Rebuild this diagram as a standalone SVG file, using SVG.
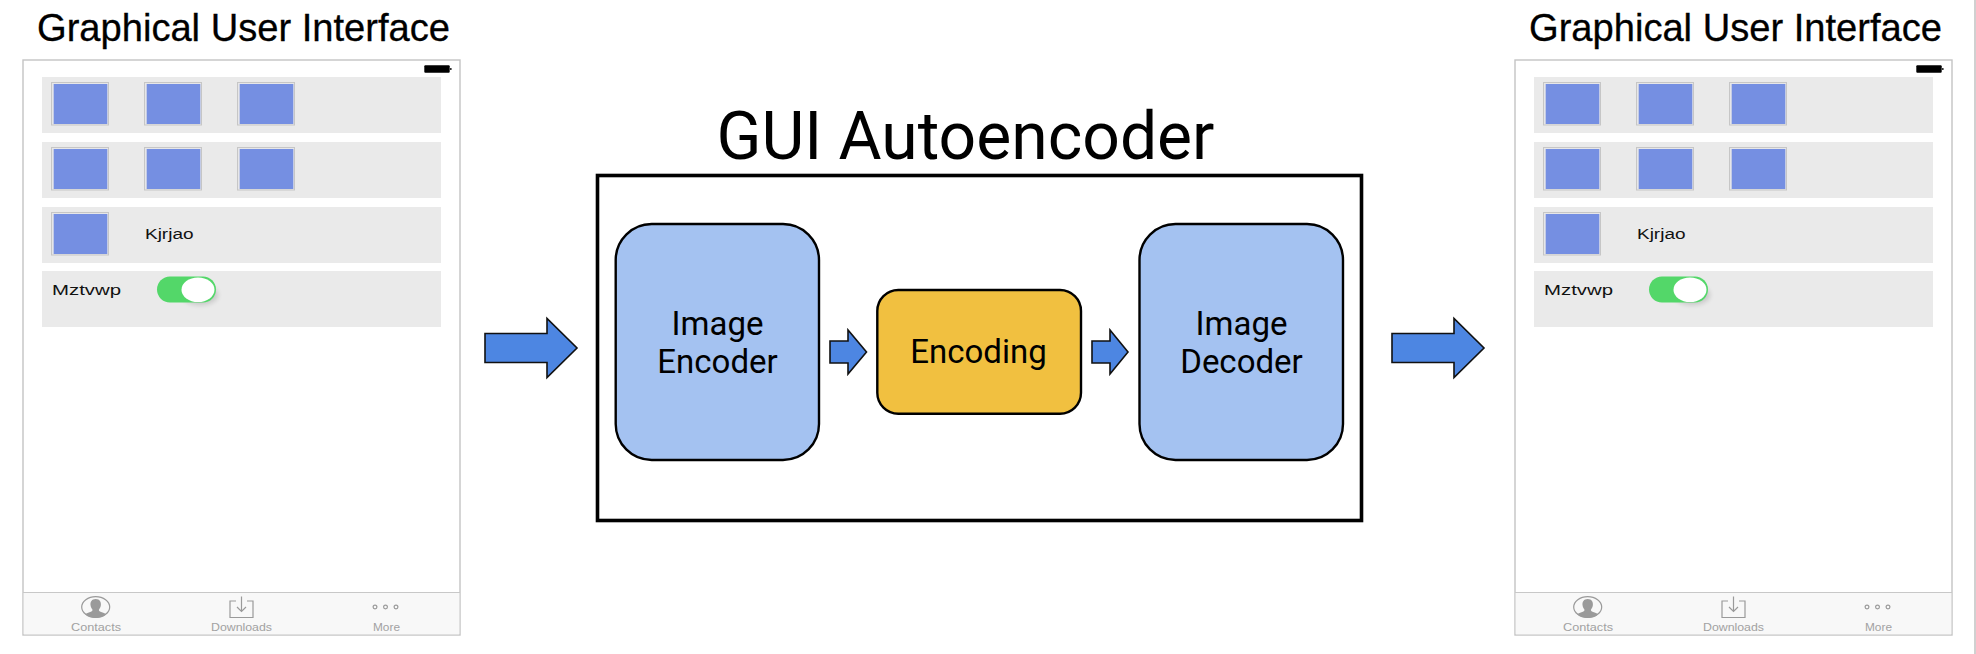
<svg xmlns="http://www.w3.org/2000/svg" xmlns:xlink="http://www.w3.org/1999/xlink" width="1976" height="654" viewBox="0 0 1976 654">
<style>
.h{font-family:"Liberation Sans",Arial,sans-serif;font-size:38.500px;fill:#000;stroke:#000;stroke-width:.3}
.t{font-family:"Liberation Sans",Arial,sans-serif;font-size:15.500px;fill:#111}
.tab{font-family:"Liberation Sans",Arial,sans-serif;font-size:11px;fill:#a2a2a2}
.m{font-family:Roboto,"Liberation Sans",sans-serif;fill:#000;text-anchor:middle}
.l{font-size:33px}
.box{stroke:#000;stroke-width:2.400}
.blue{fill:#a4c2f1}
.arrow{fill:#4d86e2;stroke:#111;stroke-width:1.600;stroke-linejoin:miter}
.sqo{fill:#e6e6e8;stroke:#c6c6c6;stroke-width:1}
.sqi{fill:#758fe2}
.row{fill:#eaeaea}
.ic{fill:none;stroke:#9a9a9a;stroke-width:1.200}
</style>
<defs>
<filter id="sh" x="-30%" y="-30%" width="170%" height="180%"><feGaussianBlur stdDeviation="2.500"/></filter>
<g id="sq"><rect class="sqo" x="0.500" y="0.500" width="57" height="42.500"/><rect class="sqi" x="2.700" y="2" width="53.600" height="40"/></g>
<g id="phone-ui">
<rect x="23" y="60" width="437" height="575" fill="#fff" stroke="#c4c4c4" stroke-width="1.400"/>
<rect x="23.700" y="592" width="435.600" height="42.300" fill="#f8f8f8"/>
<line x1="23" y1="592.500" x2="460" y2="592.500" stroke="#c8c8c8" stroke-width="1.200"/>
<rect x="424.300" y="65.300" width="25.400" height="7.400" rx="1" fill="#000"/><rect x="450" y="68" width="1.600" height="2" fill="#333"/>
<rect class="row" x="42" y="77" width="399" height="56"/>
<rect class="row" x="42" y="142" width="399" height="56"/>
<rect class="row" x="42" y="207" width="399" height="56"/>
<rect class="row" x="42" y="271" width="399" height="56"/>
<use xlink:href="#sq" href="#sq" x="51" y="82"/><use xlink:href="#sq" href="#sq" x="144" y="82"/><use xlink:href="#sq" href="#sq" x="237" y="82"/>
<use xlink:href="#sq" href="#sq" x="51" y="147"/><use xlink:href="#sq" href="#sq" x="144" y="147"/><use xlink:href="#sq" href="#sq" x="237" y="147"/>
<use xlink:href="#sq" href="#sq" x="51" y="212"/>
<ellipse cx="200" cy="295" rx="18" ry="10" fill="#000" opacity=".15" filter="url(#sh)"/>
<rect x="157" y="276.500" width="59" height="26" rx="13" fill="#53d769"/>
<ellipse cx="198" cy="289.700" rx="16.500" ry="12.300" fill="#fff"/>
<ellipse cx="95.700" cy="607" rx="14" ry="10.400" class="ic"/>
<path d="M95.700 599c-4 0-5.500 3-5.200 6 .2 2 1.200 3.500 2 4.800.2 1.200-1 1.800-3 2.400-2 .6-3.300 1.200-4.300 2.400a14 10.400 0 0 0 21 0c-1-1.200-2.300-1.800-4.300-2.400-2-.6-3.200-1.200-3-2.400.8-1.300 1.800-2.800 2-4.800.3-3-1.200-6-5.200-6z" fill="#9a9a9a"/>
<path class="ic" d="M236 601h-6v16.500h23v-16.500h-6M241.500 596.500v15M237 607l4.500 4.500 4.500-4.500"/>
<circle class="ic" cx="375" cy="607" r="1.900"/><circle class="ic" cx="385.500" cy="607" r="1.900"/><circle class="ic" cx="396" cy="607" r="1.900"/>
</g>
</defs>
<rect width="1976" height="654" fill="#fff"/>
<rect x="1974" y="0" width="2" height="654" fill="#d0d0d0"/>

<g id="gui-input">
<text class="h" x="37" y="41" textLength="413" lengthAdjust="spacingAndGlyphs">Graphical User Interface</text>
<use xlink:href="#phone-ui" href="#phone-ui"/>
<text class="t" x="145" y="239" textLength="48.500" lengthAdjust="spacingAndGlyphs">Kjrjao</text>
<text class="t" x="52" y="295" textLength="69" lengthAdjust="spacingAndGlyphs">Mztvwp</text>
<text class="tab" x="71" y="630.500" textLength="50" lengthAdjust="spacingAndGlyphs">Contacts</text>
<text class="tab" x="211" y="630.500" textLength="61" lengthAdjust="spacingAndGlyphs">Downloads</text>
<text class="tab" x="373" y="630.500" textLength="27" lengthAdjust="spacingAndGlyphs">More</text>
</g>

<g id="gui-output" transform="translate(1492 0)">
<text class="h" x="37" y="41" textLength="413" lengthAdjust="spacingAndGlyphs">Graphical User Interface</text>
<use xlink:href="#phone-ui" href="#phone-ui"/>
<text class="t" x="145" y="239" textLength="48.500" lengthAdjust="spacingAndGlyphs">Kjrjao</text>
<text class="t" x="52" y="295" textLength="69" lengthAdjust="spacingAndGlyphs">Mztvwp</text>
<text class="tab" x="71" y="630.500" textLength="50" lengthAdjust="spacingAndGlyphs">Contacts</text>
<text class="tab" x="211" y="630.500" textLength="61" lengthAdjust="spacingAndGlyphs">Downloads</text>
<text class="tab" x="373" y="630.500" textLength="27" lengthAdjust="spacingAndGlyphs">More</text>
</g>

<g id="autoencoder">
<text class="m" x="965.500" y="159" font-size="66">GUI Autoencoder</text>
<rect x="597.500" y="175.500" width="764" height="345" fill="#fff" stroke="#000" stroke-width="3.600"/>
</g>

<g id="image-encoder">
<rect class="box blue" x="615.700" y="224" width="203.300" height="236" rx="36"/>
<text class="m l" x="717.500" y="335">Image</text>
<text class="m l" x="717.500" y="373">Encoder</text>
</g>
<g id="encoding">
<rect class="box" fill="#f1c040" x="877.300" y="290" width="203.700" height="123.700" rx="21"/>
<text class="m l" x="978.500" y="363">Encoding</text>
</g>
<g id="image-decoder">
<rect class="box blue" x="1139.500" y="224" width="203.500" height="236" rx="36"/>
<text class="m l" x="1241.500" y="335">Image</text>
<text class="m l" x="1241.500" y="373">Decoder</text>
</g>

<g id="connectors">
<path class="arrow" d="M485 333.500H547V318.500L577 348 547 377.500V362.500H485Z"/>
<path class="arrow" d="M830 341H848V330L866.500 352 848 374V363H830Z"/>
<path class="arrow" d="M1092 341H1110V330L1128 352 1110 374V363H1092Z"/>
<path class="arrow" d="M1392 333.500H1454V318.500L1484 348 1454 377.500V362.500H1392Z"/>
</g>
</svg>
